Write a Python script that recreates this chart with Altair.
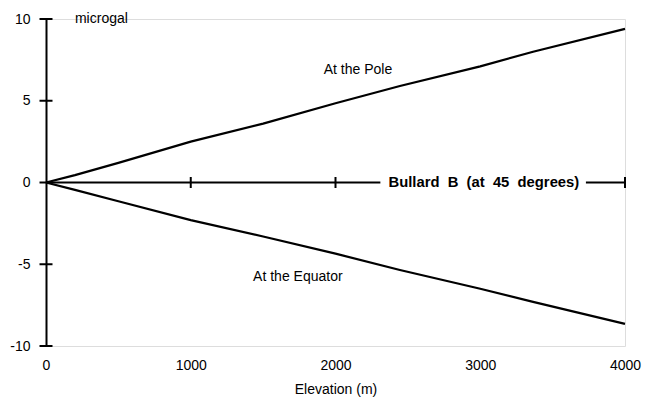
import altair as alt
import pandas as pd

# Data
elev = [0, 200, 500, 1000, 1500, 2000, 2445, 3000, 3365, 4000]
pole = [0, 0.45, 1.2, 2.5, 3.6, 4.85, 5.9, 7.1, 8.0, 9.4]
equator = [0, -0.45, -1.15, -2.3, -3.3, -4.35, -5.35, -6.5, -7.3, -8.65]

x_ticks = [0, 1000, 2000, 3000, 4000]
y_ticks = [-10, -5, 0, 5, 10]
zero_ticks = [1000, 2000, 4000]

seg_start = [0, 3730]
seg_end = [2310, 4000]

NB = "\u00a0"
bullard = f"Bullard{NB}{NB}B{NB}{NB}(at{NB}{NB}45{NB}{NB}degrees)"
labels = ["microgal", "At the Pole", "At the Equator", bullard]
label_x = [200, 2155, 1740, 3025]
label_y = [10, 6.9, -5.77, 0]

FONT = "Liberation Sans"

lines_df = pd.DataFrame({
    "elev": elev + elev,
    "value": pole + equator,
    "series": ["pole"] * len(elev) + ["equator"] * len(elev),
})
seg_df = pd.DataFrame({"elev": seg_start, "elev2": seg_end, "value": [0, 0]})
ytick_df = pd.DataFrame({"elev": [0] * len(y_ticks), "value": y_ticks})
xtick_df = pd.DataFrame({"elev": zero_ticks, "value": [0] * len(zero_ticks)})
text_df = pd.DataFrame({"elev": label_x, "value": label_y, "label": labels})

x_axis = alt.Axis(values=x_ticks, domain=False, ticks=False, tickSize=0, grid=False,
                  labelFontSize=14, labelColor="black", labelPadding=12, labelFlush=False,
                  labelFont=FONT, labelExpr="'' + datum.value",
                  title="Elevation (m)", titleFont=FONT, titleFontSize=14,
                  titleFontWeight="normal", titleColor="black", titlePadding=10)
y_axis = alt.Axis(values=y_ticks, domain=True, domainColor="black", domainWidth=2,
                  ticks=False, tickSize=0, grid=False, labelFontSize=14, labelColor="black",
                  labelPadding=16, labelFlush=False, labelFont=FONT,
                  labelExpr="'' + datum.value", title=None)

x_scale = alt.Scale(domain=[0, 4000], nice=False, zero=False)
y_scale = alt.Scale(domain=[-10, 10], nice=False, zero=False)

X = alt.X("elev:Q", scale=x_scale, axis=x_axis)
Y = alt.Y("value:Q", scale=y_scale, axis=y_axis)

lines = alt.Chart(lines_df).mark_line(color="black", strokeWidth=2.2).encode(
    x=X, y=Y, detail="series:N"
)
zero = alt.Chart(seg_df).mark_rule(color="black", strokeWidth=2).encode(
    x=X, x2="elev2:Q", y=Y
)
yt = alt.Chart(ytick_df).mark_tick(orient="horizontal", size=13, thickness=2, color="black", opacity=1).encode(
    x=X, y=Y
)
xt = alt.Chart(xtick_df).mark_tick(orient="vertical", size=11, thickness=2, color="black", opacity=1).encode(
    x=X, y=Y
)
plain_text = alt.Chart(text_df.iloc[1:3]).mark_text(
    font=FONT, fontSize=14, color="black", align="center", baseline="middle"
).encode(x=X, y=Y, text="label:N")
micro_text = alt.Chart(text_df.iloc[0:1]).mark_text(
    font=FONT, fontSize=14, color="black", align="left", baseline="middle"
).encode(x=X, y=Y, text="label:N")
bold_text = alt.Chart(text_df.iloc[3:4]).mark_text(
    font=FONT, fontSize=14.8, fontWeight="bold", color="black", align="center", baseline="middle"
).encode(x=X, y=Y, text="label:N")

chart = alt.layer(zero, lines, yt, xt, plain_text, micro_text, bold_text).properties(
    width=579,
    height=327,
    autosize=alt.AutoSizeParams(type="none"),
    padding={"left": 46, "top": 19, "right": 20, "bottom": 60},
    background="white",
).configure_view(stroke=None).configure(font=FONT)

chart.save("out.html", embed_options={"renderer": "svg", "actions": False})
